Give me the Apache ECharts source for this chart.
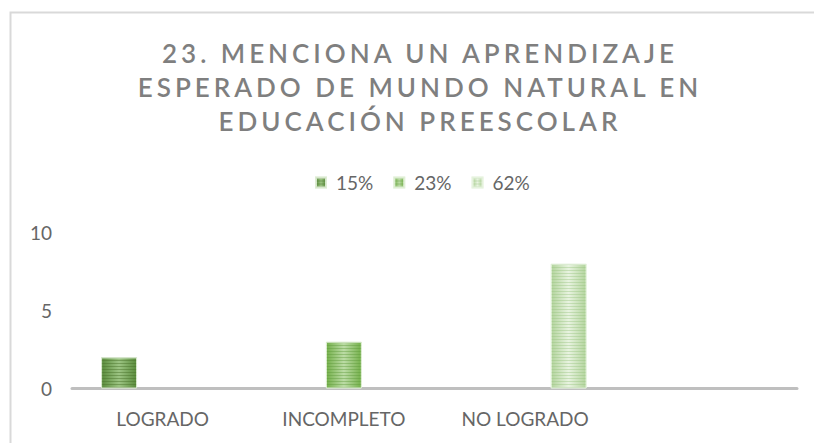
<!DOCTYPE html>
<html><head><meta charset="utf-8">
<script src="https://cdn.jsdelivr.net/npm/echarts@6/dist/echarts.min.js"></script>
<style>html,body{margin:0;padding:0;background:#fff}#c{width:814px;height:443px}</style>
</head><body><div id="c"></div>
<script>
// ---- data ----
const titleLines = ['23. MENCIONA UN APRENDIZAJE', 'ESPERADO DE MUNDO NATURAL EN', 'EDUCACIÓN PREESCOLAR'];
const categories = ['LOGRADO', 'INCOMPLETO', 'NO LOGRADO', ''];
const seriesNames = ['15%', '23%', '62%'];
const s15 = [2, null, null, null];
const s23 = [null, 3, null, null];
const s62 = [null, null, 8, null];
const yMin = 0, yMax = 10, yStep = 5;

// ---- styles ----
const FONT = 'Lato';
const TITLE_SPACING = 4;
function barFill(edge, center) {
  return { type: 'linear', x: 0, y: 0, x2: 1, y2: 0,
    colorStops: [{ offset: 0, color: edge }, { offset: 0.5, color: center }, { offset: 1, color: edge }] };
}
function stripes(c) {
  return { symbol: 'rect', symbolSize: 1, dashArrayX: [1, 0], dashArrayY: [1, 2], rotation: 0, color: c };
}
const styles = [
  { fill: barFill('#5a8c3c', '#9cc483'), decal: stripes('rgba(70,110,40,0.45)'), border: 'rgba(220,235,210,0.8)' },
  { fill: barFill('#74b04a', '#bcdca6'), decal: stripes('rgba(90,150,55,0.4)'), border: 'rgba(225,240,215,0.8)' },
  { fill: barFill('#b3d49d', '#e8f3e0'), decal: stripes('rgba(150,195,125,0.4)'), border: 'rgba(230,242,222,0.8)' }
];
const seriesData = [s15, s23, s62];

const chart = echarts.init(document.getElementById('c'), null, { renderer: 'svg' });
chart.setOption({
  animation: false,
  backgroundColor: '#fff',
  title: {
    text: titleLines.join('\n'),
    left: 415, top: 31, textAlign: 'center',
    textStyle: { fontFamily: FONT, fontSize: 26, fontWeight: 600, color: '#7f7f7f', lineHeight: 34 }
  },
  legend: {
    data: seriesNames, left: 310, top: 168, icon: 'rect',
    itemWidth: 10, itemHeight: 10, itemGap: 20,
    textStyle: { fontFamily: FONT, fontSize: 19, color: '#666', padding: [0, 0, 0, 5] }
  },
  graphic: [{
    type: 'rect', left: 8, top: 10, silent: true, z: -10,
    shape: { width: 900, height: 500 },
    style: { fill: 'none', stroke: '#d9d9d9', lineWidth: 2 }
  }],
  grid: { left: 72, right: 17, top: 232.5, bottom: 54.5, containLabel: false },
  xAxis: {
    type: 'category', data: categories,
    axisLine: { lineStyle: { color: '#bfbfbf', width: 3 } },
    axisTick: { show: false },
    axisLabel: { fontFamily: FONT, fontSize: 19, color: '#666', margin: 20 }
  },
  yAxis: {
    type: 'value', min: yMin, max: yMax, interval: yStep,
    axisLine: { show: false }, axisTick: { show: false }, splitLine: { show: false },
    axisLabel: { fontFamily: FONT, fontSize: 19, color: '#666', margin: 20 }
  },
  series: seriesNames.map((n, i) => ({
    name: n, type: 'bar', data: seriesData[i],
    barWidth: 36, barGap: '21%',
    itemStyle: { color: styles[i].fill, decal: styles[i].decal, borderColor: styles[i].border, borderWidth: 1 }
  }))
});
function spaceTitle() {
  document.querySelectorAll('#c svg text').forEach(t => {
    if (titleLines.indexOf(t.textContent) >= 0) t.setAttribute('letter-spacing', TITLE_SPACING);
  });
}
chart.on('finished', spaceTitle);
spaceTitle();
setTimeout(spaceTitle, 0);
</script></body></html>
